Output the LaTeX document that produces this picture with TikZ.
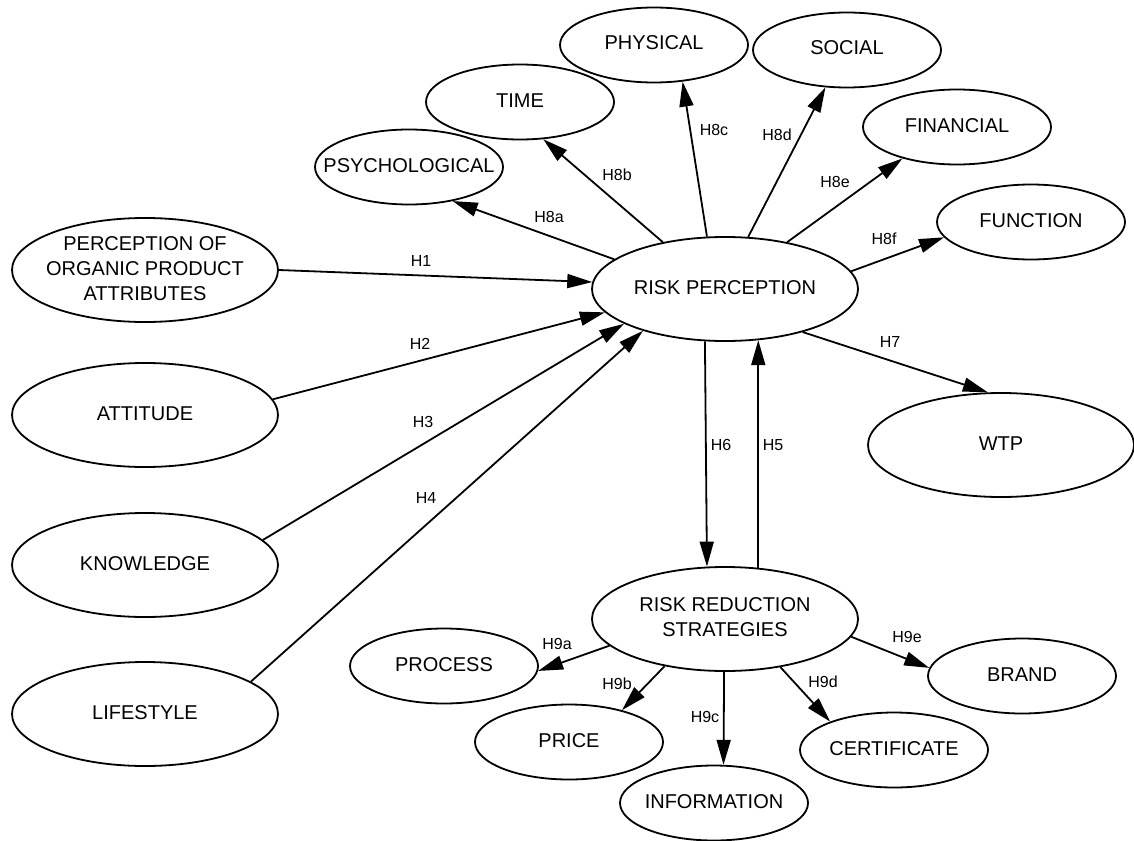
\documentclass[tikz,border=0pt]{standalone}
\usepackage{fontspec}
\setmainfont{Liberation Sans}
\usetikzlibrary{shapes.geometric,arrows.meta}
% centred text of zero width, so the ellipse keeps its given size
\newcommand{\ctext}[1]{\makebox[0pt]{\begin{tabular}{@{}c@{}}#1\end{tabular}}}
\begin{document}
\begin{tikzpicture}[x=1pt,y=-1pt,
  concept/.style={draw, ellipse, line width=1.8pt, inner xsep=0pt, inner ysep=-2pt,
    font=\fontsize{20}{25}\selectfont},
  major/.style={concept, minimum width=266pt, minimum height=104pt},
  minor/.style={concept, minimum width=188pt, minimum height=75pt},
  hyp/.style={line width=1.8pt, -{Triangle[length=25pt,width=14pt]}},
  hlabel/.style={inner sep=0pt, font=\fontsize{16}{18}\selectfont}]
\useasboundingbox (0,0) rectangle (1134,840);
\fill[white] (0,0) rectangle (1134,840);

% constructs
\node[minor] (phys)  at (654,45)   {\ctext{PHYSICAL}};
\node[minor] (soc)   at (847,50)   {\ctext{SOCIAL}};
\node[minor] (time)  at (520,102)  {\ctext{TIME}};
\node[minor] (fin)   at (957,127)  {\ctext{FINANCIAL}};
\node[minor] (psy)   at (409,167)  {\ctext{PSYCHOLOGICAL}};
\node[minor] (fun)   at (1031,222) {\ctext{FUNCTION}};
\node[major] (poa)   at (145,270)  {\ctext{PERCEPTION OF\\ORGANIC PRODUCT\\ATTRIBUTES}};
\node[major] (rp)    at (725,289)  {\ctext{RISK PERCEPTION}};
\node[major] (att)   at (145,415)  {\ctext{ATTITUDE}};
\node[major] (wtp)   at (1001,445) {\ctext{WTP}};
\node[major] (kno)   at (145,565)  {\ctext{KNOWLEDGE}};
\node[major] (rrs)   at (725,619)  {\ctext{RISK REDUCTION\\STRATEGIES}};
\node[minor] (proc)  at (444,666)  {\ctext{PROCESS}};
\node[minor] (brand) at (1022,676) {\ctext{BRAND}};
\node[major] (life)  at (145,714)  {\ctext{LIFESTYLE}};
\node[minor] (price) at (569,742)  {\ctext{PRICE}};
\node[minor] (cert)  at (894,750)  {\ctext{CERTIFICATE}};
\node[minor] (info)  at (714,803)  {\ctext{INFORMATION}};

% antecedents of risk perception
\draw[hyp] (poa.0)   -- (rp.177);
\draw[hyp] (att.7)   -- (rp.191);
\draw[hyp] (kno.12)  -- (rp.199);
\draw[hyp] (life.17) -- (rp.207);

% risk dimensions
\draw[hyp] (rp.165) -- (psy.322);
\draw[hyp] (rp.143) -- (time.302);
\draw[hyp] (rp.109) -- (phys.308);
\draw[hyp] (rp.66)  -- (soc.240);
\draw[hyp] (rp.37)  -- (fin.210);
\draw[hyp] (rp.8)   -- (fun.190);
\draw[hyp] (rp.331) -- (wtp.104);

% risk perception <-> risk reduction strategies
\draw[hyp] (rp.249) -- (rrs.109);
\draw[hyp] (rrs.57) -- (rp.303);

% risk reduction strategies
\draw[hyp] (rrs.193) -- (proc.357);
\draw[hyp] (rrs.218) -- (price.31);
\draw[hyp] (rrs.269) -- (info.76);
\draw[hyp] (rrs.319) -- (cert.156);
\draw[hyp] (rrs.352) -- (brand.175);

% hypothesis labels
\node[hlabel] (h1)  at (421,261) {H1};
\node[hlabel] (h2)  at (420,344) {H2};
\node[hlabel] (h3)  at (423,422) {H3};
\node[hlabel] (h4)  at (426,498) {H4};
\node[hlabel] (h5)  at (773,445) {H5};
\node[hlabel] (h6)  at (721,445) {H6};
\node[hlabel] (h7)  at (890,342) {H7};
\node[hlabel] (h8a) at (549,217) {H8a};
\node[hlabel] (h8b) at (617,175) {H8b};
\node[hlabel] (h8c) at (714,130) {H8c};
\node[hlabel] (h8d) at (777,135) {H8d};
\node[hlabel] (h8e) at (835,182) {H8e};
\node[hlabel] (h8f) at (884,239) {H8f};
\node[hlabel] (h9a) at (557,644) {H9a};
\node[hlabel] (h9b) at (617,684) {H9b};
\node[hlabel] (h9c) at (705,717) {H9c};
\node[hlabel] (h9d) at (823,682) {H9d};
\node[hlabel] (h9e) at (907,637) {H9e};
\end{tikzpicture}
\end{document}
